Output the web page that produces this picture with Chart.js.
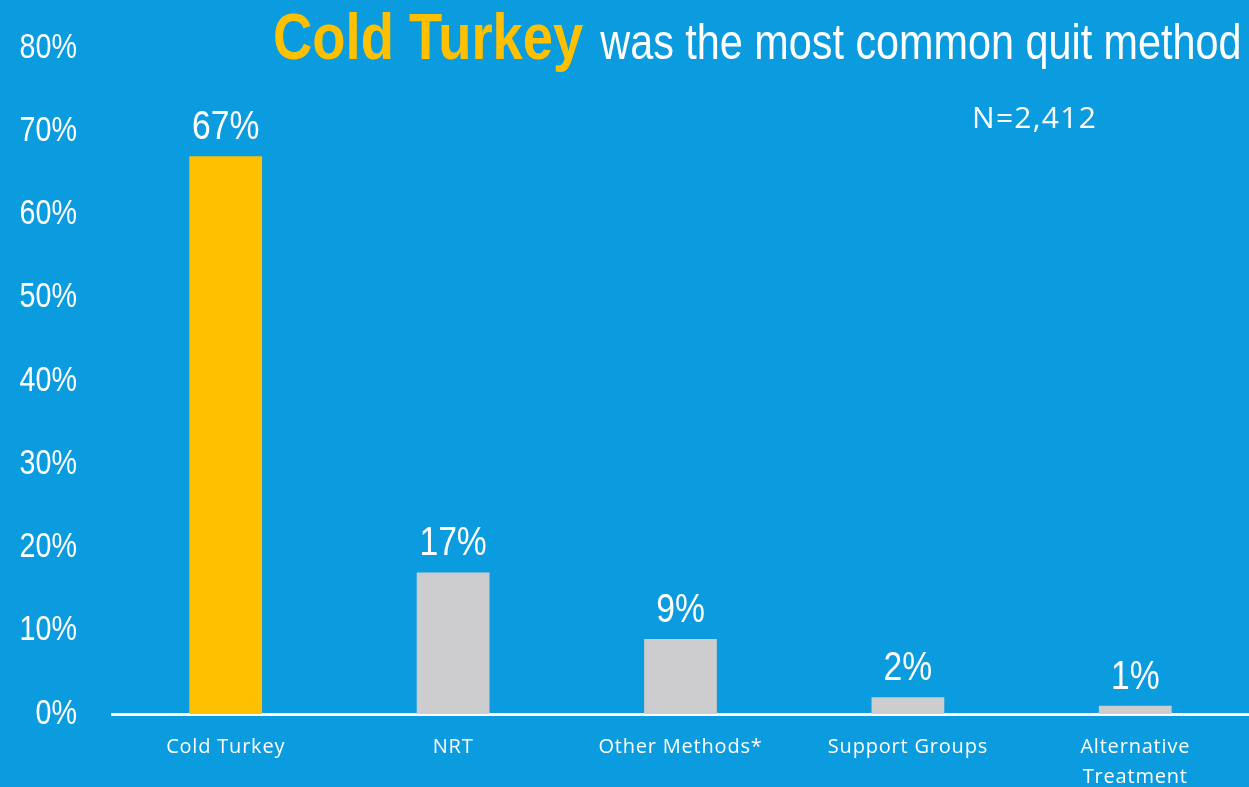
<!DOCTYPE html>
<html>
<head>
<meta charset="utf-8">
<script src="https://cdn.jsdelivr.net/npm/chart.js@4"></script>
<style>
  html, body { margin: 0; padding: 0; background: #0B9BDF; }
  #wrap { width: 1249px; height: 787px; }
</style>
</head>
<body>
<div id="wrap"><canvas id="quitChart" width="1249" height="787"></canvas></div>
<script>
const categories = ['Cold Turkey', 'NRT', 'Other Methods*', 'Support Groups', ['Alternative', 'Treatment']];
const values = [67, 17, 9, 2, 1];
const barColors = ['#FFC000', '#CDCCCE', '#CDCCCE', '#CDCCCE', '#CDCCCE'];
const yTicks = [0, 10, 20, 30, 40, 50, 60, 70, 80];

const sans = '"Liberation Sans", Arial, sans-serif';
const labelFont = '"Open Sans", "Noto Sans", sans-serif';

// no narrow font installed, so squeeze Liberation Sans sideways
function narrowText(ctx, text, x, y, font, align, sx) {
  ctx.save();
  ctx.font = font;
  ctx.textAlign = align;
  ctx.translate(x, y);
  ctx.scale(sx, 1);
  ctx.fillText(text, 0, 0);
  const w = ctx.measureText(text).width * sx;
  ctx.restore();
  return w;
}

const decorations = {
  id: 'decorations',
  beforeDraw(chart) {
    chart.ctx.letterSpacing = '0.8px';
  },
  beforeDatasetsDraw(chart) {
    chart.ctx.letterSpacing = '0px';
  },
  afterDatasetsDraw(chart) {
    const ctx = chart.ctx;
    ctx.save();
    ctx.fillStyle = '#FFFFFF';
    ctx.textBaseline = 'middle';

    // y tick labels
    const y = chart.scales.y;
    y.ticks.forEach(t => {
      narrowText(ctx, t.value + '%', 77, y.getPixelForValue(t.value), '35px ' + sans, 'right', 0.82);
    });

    // value labels above bars
    ctx.textBaseline = 'alphabetic';
    const meta = chart.getDatasetMeta(0);
    meta.data.forEach((bar, i) => {
      narrowText(ctx, values[i] + '%', bar.x, bar.y - 17, '41px ' + sans, 'center', 0.82);
    });

    // title
    ctx.fillStyle = '#FFC000';
    const w = narrowText(ctx, 'Cold Turkey', 273, 59, 'bold 64px ' + sans, 'left', 0.85);
    ctx.fillStyle = '#FFFFFF';
    narrowText(ctx, 'was the most common quit method', 273 + w + 17, 59, '50px ' + sans, 'left', 0.827);

    // sample size
    ctx.letterSpacing = '1.3px';
    ctx.font = '30px ' + labelFont;
    ctx.textAlign = 'left';
    ctx.fillText('N=2,412', 972, 128);
    ctx.restore();
  }
};

new Chart(document.getElementById('quitChart'), {
  type: 'bar',

  data: {
    labels: categories,

    datasets: [{
      data: values,
      backgroundColor: barColors,
      borderWidth: 0,
      barPercentage: 0.32,
      categoryPercentage: 1
    }]
  },

  options: {
    responsive: false,
    animation: false,

    layout: {
      padding: { top: 48, right: 0, bottom: 0, left: 0 }
    },

    scales: {
      x: {
        grid: { display: false, drawTicks: false },
        border: { display: true, color: '#FFFFFF', width: 3 },
        ticks: {
          color: '#FFFFFF',
          padding: 18,
          maxRotation: 0,
          font: { family: labelFont, size: 20, lineHeight: 1.5 }
        },
        afterFit(scale) { scale.height = 73; }
      },

      y: {
        min: 0,
        max: 80,
        grid: { display: false, drawTicks: false },
        border: { display: false },
        afterBuildTicks(scale) {
          scale.ticks = yTicks.map(v => ({ value: v }));
        },
        ticks: {
          // drawn by the plugin in a squeezed font
          color: 'rgba(0,0,0,0)',
          padding: 35,
          font: { family: sans, size: 10 },
          callback: v => v + '%'
        },
        afterFit(scale) { scale.width = 112; }
      }
    },

    plugins: {
      legend: { display: false },
      tooltip: { enabled: false }
    }
  },

  plugins: [decorations]
});
</script>
</body>
</html>
